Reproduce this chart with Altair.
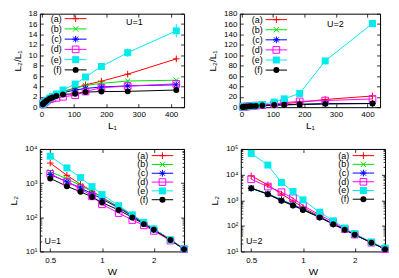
import altair as alt
import pandas as pd

FONT = "Liberation Sans"

series = ["(a)", "(b)", "(c)", "(d)", "(e)", "(f)"]
colors = ["#ff0000", "#00e000", "#0000ff", "#ff00ff", "#00ecec", "#000000"]
shapes = [
    "M-1,0H1M0,-1V1",
    "M-0.8,-0.8L0.8,0.8M-0.8,0.8L0.8,-0.8",
    "M-1,0H1M0,-1V1M-0.75,-0.75L0.75,0.75M-0.75,0.75L0.75,-0.75",
    "square",
    "square",
    "circle",
]

# disorder strength and one-particle localization length
W = [0.5, 0.625, 0.75, 0.875, 1.0, 1.25, 1.5, 1.75, 2.0, 2.5, 3.0, 4.0, 5.0]
L1 = [416, 266, 185, 136, 104, 66.5, 46.2, 34.0, 26.0, 16.6, 11.6, 6.5, 4.2]

# two-particle localization length, U=1
u1_a = [3870, 1690, 925, 585, 385, 200, 116, 71, 45.5, 22.4, 11.8, 5.1, 2.4]
u1_b = [2160, 1340, 850, 570, 375, 193, 111, 68, 44, 21.6, 11.6, 4.9, 2.4]
u1_c = [1790, 1090, 720, 490, 343, 186, 109, 66, 43, 21.6, 11.6, 4.9, 2.4]
u1_d = [1870, 1080, 695, 410, 240, 133, 83, 58, 40, 20.8, 11.6, 4.9, 2.35]
u1_e = [6115, 2790, 1450, 790, 463, 220, 118, 71, 46, 22, 11.8, 5.2, 2.5]
u1_f = [1375, 810, 555, 395, 270, 163, 99, 63, 43, 21.5, 11.6, 4.9, 2.3]

# two-particle localization length, U=2
u2_a = [8950, 3960, 1720, 940, 520, 233, 115, 70, 45, 22.4, 12.5, 5.2, 2.5]
u2_b = [3000, 1810, 1036, 680, 458, 226, 120, 71, 45.5, 22.4, 12.4, 5.1, 2.4]
u2_c = [2910, 1756, 1000, 653, 437, 219, 118, 71, 44.7, 22, 12.3, 5.1, 2.4]
u2_d = [6570, 3400, 2050, 1200, 624, 266, 139, 75, 45.5, 22, 12.3, 5.1, 2.4]
u2_e = [67000, 23700, 4900, 2180, 1030, 340, 157, 82, 49.4, 23.2, 13.5, 5.5, 2.6]
u2_f = [2940, 1700, 944, 619, 416, 213, 116, 70, 45, 22, 12.3, 5.1, 2.35]

# error bars on L2/L1
zeros = [0] * 13
err_u1_a = [0.3, 0.2, 0, 0, 0, 0, 0, 0, 0, 0, 0, 0, 0]
err_u1_e = [1.3, 0.8, 0.3, 0.15, 0, 0, 0, 0, 0, 0, 0, 0, 0]
err_u2_a = [2.0, 0.8, 0, 0, 0, 0, 0, 0, 0, 0, 0, 0, 0]
err_u2_e = [4.0, 2.0, 0.8, 0, 0, 0, 0, 0, 0, 0, 0, 0, 0]

tables = {
    1: ([u1_a, u1_b, u1_c, u1_d, u1_e, u1_f],
        [err_u1_a, zeros, zeros, zeros, err_u1_e, zeros]),
    2: ([u2_a, u2_b, u2_c, u2_d, u2_e, u2_f],
        [err_u2_a, zeros, zeros, zeros, err_u2_e, zeros]),
}

rows = []
for U, (vals, errs) in tables.items():
    for s, v, e in zip(series, vals, errs):
        for w, l1, l2, er in zip(W, L1, v, e):
            rows.append({"U": U, "s": s, "W": w, "L1": l1, "L2": l2, "err": er})
df = pd.DataFrame(rows)
leg_df = pd.DataFrame({"s": series, "rank": list(range(6))})

cscale = alt.Scale(domain=series, range=colors)
sscale = alt.Scale(domain=series, range=shapes)
col = alt.Color("s:N", scale=cscale, legend=None)
shp = alt.Shape("s:N", scale=sscale, legend=None)


def lin_axis(vals, length, title, pad_title):
    return alt.Axis(values=vals, title=title, tickSize=0, domain=False, grid=True,
                    gridColor="black", gridWidth=0.8, gridOpacity=1,
                    gridDash=[3.5, length - 7, 3.5, 60],
                    labelPadding=3, titlePadding=pad_title,
                    labelFlush=False, labelOverlap=False)


def log_y_axis(top_exp, length, title, pad_title):
    vals = []
    for k in range(1, top_exp):
        base = 10 ** k
        vals += [base * m for m in range(1, 10)]
    vals.append(10 ** top_exp)
    test = "indexof([10,100,1000,10000,100000], datum.value) >= 0"
    return alt.Axis(values=vals, title=title, tickSize=0, domain=False, grid=True,
                    gridColor="black", gridWidth=0.8, gridOpacity=1,
                    gridDash={"condition": {"test": test, "value": [3.5, length - 7, 3.5, 60]},
                              "value": [2, length - 4, 2, 60]},
                    labelExpr="indexof([10,100,1000,10000,100000], datum.value) >= 0 ? "
                              "'10' + ['','¹','²','³','⁴','⁵'][round(log(datum.value)/LN10)] : ''",
                    labelPadding=3, titlePadding=pad_title,
                    labelFlush=False, labelOverlap=False)


def panel(U, top, w, h, ymax, leg, upos):
    base = alt.Chart(df).transform_filter(f"datum.U == {U}")
    if top:
        base = base.transform_calculate(
            ratio="datum.L2 / datum.L1",
            lo="datum.L2 / datum.L1 - datum.err",
            hi="datum.L2 / datum.L1 + datum.err",
        )
        xaxis = lin_axis([0, 100, 200, 300, 400], h, "L₁", 2)
        xs = alt.Scale(domain=[-5, 440], nice=False, zero=False)
        xenc = alt.X("L1:Q", scale=xs, axis=xaxis)
        step = ymax // 9
        yaxis = lin_axis(list(range(0, ymax + 1, step)), w, "L₂/L₁", 6)
        ys = alt.Scale(domain=[0, ymax], nice=False, zero=False)
        yenc = alt.Y("ratio:Q", scale=ys, axis=yaxis)
    else:
        base = base.transform_filter("datum.W <= 3")
        xaxis = alt.Axis(values=[0.5, 1, 2], format="~g", title="W", tickSize=0,
                         domain=False, grid=True, gridColor="black", gridWidth=0.8,
                         gridOpacity=1, gridDash=[3.5, h - 7, 3.5, 60],
                         labelPadding=5, titlePadding=2, labelFlush=False,
                         labelOverlap=False)
        xs = alt.Scale(type="log", domain=[0.435, 3], nice=False)
        xenc = alt.X("W:Q", scale=xs, axis=xaxis)
        ys = alt.Scale(type="log", domain=[10, 10 ** ymax], nice=False)
        yaxis = log_y_axis(ymax, w, "L₂", 6)
        yenc = alt.Y("L2:Q", scale=ys, axis=yaxis)

    lines = base.mark_line(strokeWidth=1, clip=True).encode(x=xenc, y=yenc, color=col)
    open_pts = base.transform_filter(
        alt.FieldOneOfPredicate(field="s", oneOf=series[:4])
    ).mark_point(filled=False, size=45, strokeWidth=1, opacity=1).encode(
        x=xenc, y=yenc, color=col, shape=shp)
    sq_pts = base.transform_filter("datum.s == '(e)'").mark_point(
        filled=True, size=49, opacity=1).encode(x=xenc, y=yenc, color=col, shape=shp)
    ci_pts = base.transform_filter("datum.s == '(f)'").mark_point(
        filled=True, size=36, opacity=1).encode(x=xenc, y=yenc, color=col, shape=shp)
    layers = [lines]
    if top:
        err = base.transform_filter("datum.err > 0").mark_rule(strokeWidth=1).encode(
            x=xenc, y=alt.Y("lo:Q", scale=ys, axis=yaxis), y2="hi:Q", color=col)
        layers.append(err)
    layers += [open_pts, sq_pts, ci_pts]
    data_layer = alt.layer(*layers)

    lx_text, lx1, lx2, ly0, ly5 = leg
    lb = alt.Chart(leg_df)
    ly = alt.Y("rank:Q", scale=alt.Scale(domain=[0, 5], range=[ly0, ly5]), axis=None)
    lmid = (lx1 + lx2) / 2
    l_rule = lb.mark_rule(strokeWidth=1).encode(
        x=alt.value(lx1), x2=alt.value(lx2), y=ly, color=col)
    l_open = lb.transform_filter(
        alt.FieldOneOfPredicate(field="s", oneOf=series[:4])
    ).mark_point(filled=False, size=45, strokeWidth=1, opacity=1).encode(
        x=alt.value(lmid), y=ly, color=col, shape=shp)
    l_sq = lb.transform_filter("datum.s == '(e)'").mark_point(
        filled=True, size=49, opacity=1).encode(x=alt.value(lmid), y=ly, color=col, shape=shp)
    l_ci = lb.transform_filter("datum.s == '(f)'").mark_point(
        filled=True, size=36, opacity=1).encode(x=alt.value(lmid), y=ly, color=col, shape=shp)
    l_txt = lb.mark_text(align="right", baseline="middle", fontSize=9, font=FONT,
                         color="black").encode(x=alt.value(lx_text), y=ly, text="s:N")
    u_txt = alt.Chart(pd.DataFrame({"t": [f"U={U}"]})).mark_text(
        align="center", baseline="middle", fontSize=9, font=FONT, color="black"
    ).encode(x=alt.value(upos[0]), y=alt.value(upos[1]), text="t:N")
    leg_layer = alt.layer(l_rule, l_open, l_sq, l_ci, l_txt, u_txt)

    return alt.layer(data_layer, leg_layer).resolve_scale(y="independent").properties(
        width=w, height=h)


tl = panel(1, True, 145, 94, 18, (22, 25, 47, 5, 56.5), (95, 8))
tr = panel(2, True, 141, 94, 180, (23, 26, 47.5, 6, 56.7), (96, 10))
bl = panel(1, False, 145, 103, 4, (109, 112.5, 134, 6.7, 51), (13, 93))
br = panel(2, False, 145, 103, 5, (109, 112.5, 134, 6.7, 50.5), (13.5, 93))

row1 = alt.hconcat(tl, tr, spacing=22)
row2 = alt.hconcat(bl, br, spacing=19)
chart = alt.vconcat(row1, row2, spacing=13).properties(
    padding={"left": 0, "top": 0, "right": 0, "bottom": 0}
).configure_view(stroke="black", strokeWidth=1).configure_axis(
    labelFont=FONT, titleFont=FONT, labelColor="black", titleColor="black",
    titleFontWeight="normal", labelFontSize=8, titleFontSize=10,
)

chart.save("out.html", embed_options={"renderer": "svg", "actions": False})
